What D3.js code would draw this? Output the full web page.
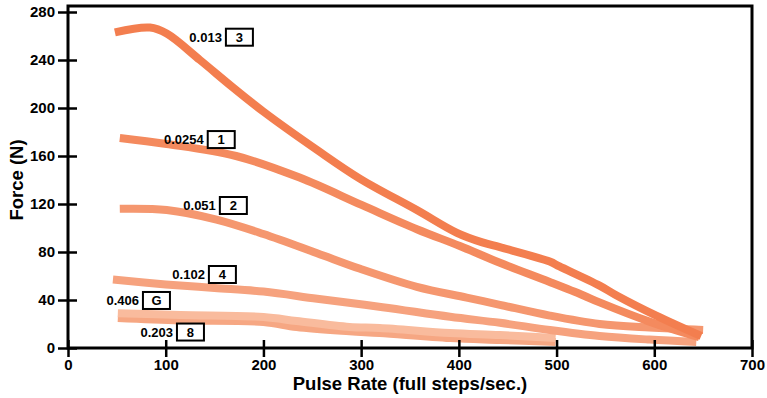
<!DOCTYPE html>
<html>
<head>
<meta charset="utf-8">
<script src="https://cdn.jsdelivr.net/npm/d3@7"></script>
<style>
  body { margin: 0; background: #fff; }
  svg text { font-family: "Liberation Sans", Arial, sans-serif; font-weight: bold; fill: #000; }
</style>
</head>
<body>
<div id="chart"></div>
<script>
// Data (pulse rate in full steps/sec, force in N)
var curve3 = [[48,263],[84,267],[101,262],[135,240],[169,217],[200,197],[255,165],[299,141],[357,115],[398,96],[424,88],[442,84],[493,72],[503,68],[544,52],[561,44],[602,27],[648,10]];
var curve1 = [[53,175],[101,170],[172,160],[237,142],[301,119],[357,99],[401,85],[442,71],[493,55],[527,44],[544,38],[595,22],[646,9]];
var curve2 = [[53,116],[101,115],[152,107],[200,95],[255,79],[299,66],[357,51],[408,42],[442,36],[493,27],[544,20],[595,17],[650,15]];
var curve4 = [[46,57],[100,53],[150,50],[200,47],[255,41],[322,34],[391,26],[442,21],[493,15],[544,10],[595,7],[643,5]];
var curveG = [[51,25],[115,23],[200,21.7],[234,17.5],[288,14],[319,12.5],[391,8.3],[442,6.7],[499,5]];
var curve8 = [[51,29],[115,27.5],[200,25.8],[234,22.5],[288,17.5],[319,16.7],[391,12.5],[442,10.8],[499,8.3]];

var seriesNames  = ["G", "8", "4", "2", "1", "3"];
var seriesValues = [curveG, curve8, curve4, curve2, curve1, curve3];
var seriesThick  = ["0.406", "0.203", "0.102", "0.051", "0.0254", "0.013"];
var seriesColors = ["#f6a783", "#f9bb9d", "#f6a27e", "#f5976f", "#f48a5e", "#f37e4f"];
// where each label box sits, in data units [pulse, force]
var labelAnchors = [[76.7,39.6],[111.5,13.3],[144.2,61.25],[155.4,118.75],[143,173.7],[161.6,259]];

var xTicks = [0,100,200,300,400,500,600,700];
var yTicks = [0,40,80,120,160,200,240,280];

var W = 767, H = 398;
var svg = d3.select("#chart").append("svg")
    .attr("width", W)
    .attr("height", H);

var x = d3.scaleLinear().domain([0,700]).range([68,752]);
var y = d3.scaleLinear().domain([0,285]).range([348,6]);

// Curves
var line = d3.line()
    .x(function(d){ return x(d[0]); })
    .y(function(d){ return y(d[1]); })
    .curve(d3.curveCatmullRom.alpha(0.5));

svg.selectAll(".curve")
  .data(seriesValues)
  .enter().append("path")
    .attr("class","curve")
    .attr("d", line)
    .attr("fill","none")
    .attr("stroke", function(d,i){ return seriesColors[i]; })
    .attr("stroke-width", 8);

// Frame
svg.append("rect")
    .attr("x", x(0))
    .attr("y", y(285))
    .attr("width", x(700)-x(0))
    .attr("height", y(0)-y(285))
    .attr("fill","none")
    .attr("stroke","#000")
    .attr("stroke-width",3);

// Axes, ticks cross the frame line
var yAxis = svg.append("g")
    .attr("transform","translate("+x(0)+",0)")
    .call(d3.axisLeft(y).tickValues(yTicks).tickSize(10).tickPadding(3));
yAxis.select(".domain").remove();
yAxis.selectAll(".tick line").attr("x1",9).attr("x2",-10).attr("stroke","#000").attr("stroke-width",2.5);
yAxis.selectAll(".tick text").style("font-size","15px");

var xAxis = svg.append("g")
    .attr("transform","translate(0,"+y(0)+")")
    .call(d3.axisBottom(x).tickValues(xTicks).tickSize(9).tickPadding(2));
xAxis.select(".domain").remove();
xAxis.selectAll(".tick line").attr("y1",-8).attr("y2",9).attr("stroke","#000").attr("stroke-width",2.5);
xAxis.selectAll(".tick text").style("font-size","15px");

// Titles
svg.append("text")
    .attr("x", (x(0)+x(700))/2)
    .attr("y", 390)
    .attr("text-anchor","middle")
    .style("font-size","18.5px")
    .text("Pulse Rate (full steps/sec.)");

svg.append("text")
    .attr("transform","translate(23,180) rotate(-90)")
    .attr("text-anchor","middle")
    .style("font-size","18.5px")
    .text("Force (N)");

// Curve labels: thickness + boxed code
var lab = svg.selectAll(".curveLabel")
  .data(seriesNames)
  .enter().append("g")
    .attr("class","curveLabel")
    .attr("transform", function(d,i){ return "translate("+x(labelAnchors[i][0])+","+y(labelAnchors[i][1])+")"; });

lab.append("text")
    .attr("x",-4)
    .attr("y",0)
    .attr("dy","0.36em")
    .attr("text-anchor","end")
    .style("font-size","13px")
    .text(function(d,i){ return seriesThick[i]; });

lab.append("rect")
    .attr("x",0)
    .attr("y",-8.5)
    .attr("width",27)
    .attr("height",17)
    .attr("fill","#fff")
    .attr("stroke","#000")
    .attr("stroke-width",2);

lab.append("text")
    .attr("x",13.5)
    .attr("y",0)
    .attr("dy","0.36em")
    .attr("text-anchor","middle")
    .style("font-size","13px")
    .text(function(d){ return d; });
</script>
</body>
</html>
